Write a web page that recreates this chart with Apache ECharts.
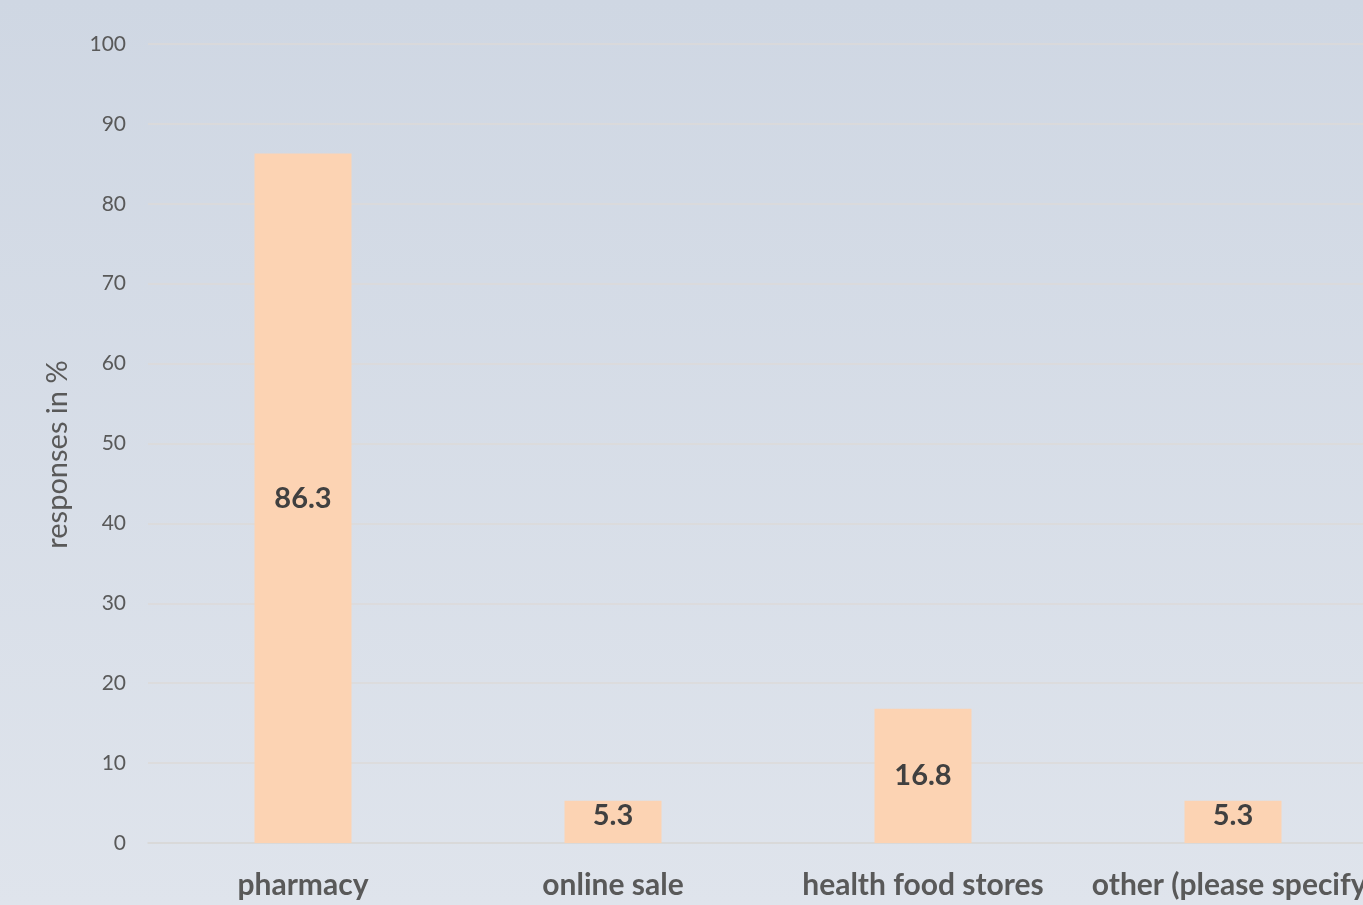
<!DOCTYPE html>
<html>
<head>
<meta charset="utf-8">
<script src="https://cdn.jsdelivr.net/npm/echarts@6/dist/echarts.min.js"></script>
<style>
  html, body { margin: 0; padding: 0; }
  #chart { width: 1363px; height: 905px; }
</style>
</head>
<body>
<div id="chart"></div>
<script>
// Where respondents buy the products (share of responses, %)
const categories = ['pharmacy', 'online sale', 'health food stores', 'other (please specify)'];
const responses = [86.3, 5.3, 16.8, 5.3];
const yTicks = { min: 0, max: 100, interval: 10 };
const yAxisTitle = 'responses in %';

const FONT = 'Lato, "Open Sans", sans-serif';

const chart = echarts.init(document.getElementById('chart'), null, { renderer: 'canvas' });

chart.setOption({
  animation: false,
  backgroundColor: {
    type: 'linear', x: 0, y: 0, x2: 0, y2: 1,
    colorStops: [
      { offset: 0, color: '#cfd7e3' },
      { offset: 1, color: '#dfe4ec' }
    ]
  },
  grid: { left: 148, top: 44, width: 1240, height: 799, outerBoundsMode: 'none', containLabel: false },
  xAxis: {
    type: 'category',
    data: categories,
    axisLine: { show: true, lineStyle: { color: '#d8d8d8', width: 1.5 } },
    axisTick: { show: false },
    axisLabel: {
      interval: 0,
      margin: 27,
      color: '#595959',
      fontFamily: FONT,
      fontWeight: 'bold',
      fontSize: 30
    }
  },
  yAxis: {
    type: 'value',
    min: yTicks.min,
    max: yTicks.max,
    interval: yTicks.interval,
    name: yAxisTitle,
    nameLocation: 'middle',
    nameGap: 76,
    nameRotate: 90,
    nameTextStyle: { color: '#595959', fontFamily: FONT, fontSize: 29, padding: [0, 22, 0, 0] },
    axisLine: { show: false },
    axisTick: { show: false },
    splitLine: { lineStyle: { color: '#dcdad8', width: 1.5 } },
    axisLabel: { color: '#595959', fontFamily: FONT, fontSize: 21, margin: 22 }
  },
  series: [{
    type: 'bar',
    data: responses.map(v => ({
      value: v,
      label: { position: v < 10 ? 'insideTop' : 'inside', distance: 0 }
    })),
    barWidth: 97,
    itemStyle: { color: '#fcd3b3' },
    label: {
      show: true,
      color: '#404040',
      fontFamily: FONT,
      fontWeight: 'bold',
      fontSize: 29,
      formatter: p => p.value.toFixed(1)
    }
  }]
});
</script>
</body>
</html>
